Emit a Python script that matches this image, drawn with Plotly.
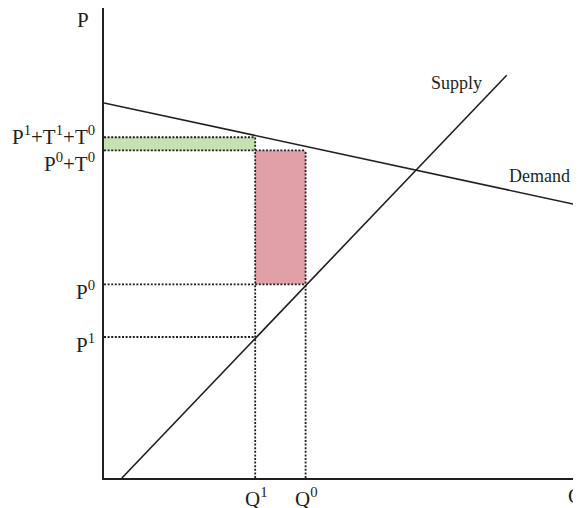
import plotly.graph_objects as go

# ---- data (abstract diagram units) ----
supply_q = [0.38, 8.55]
supply_p = [0.0, 8.57]
demand_q = [0.0, 9.96]
demand_p = [7.98, 5.83]

Q1 = 3.21
Q0 = 4.28
P1 = 3.0
P0 = 4.12
P_mid = 6.97    # P0 + T0
P_high = 7.25   # P1 + T1 + T0

y_tick_vals = [P_high, P_mid, P0, P1]
y_tick_text = ["P<sup>1</sup>+T<sup>1</sup>+T<sup>0</sup>", "P<sup>0</sup>+T<sup>0</sup>",
               "P<sup>0</sup>", "P<sup>1</sup>"]
y_tick_shift = [2, -12, -6, -6]
x_tick_vals = [Q1, Q0]
x_tick_text = ["Q<sup>1</sup>", "Q<sup>0</sup>"]

INK = "#231f20"
FONT = "Liberation Serif"
GREEN = "rgb(196,226,178)"
PINK = "rgb(225,160,167)"
DOT = "2px,1.6px"

fig = go.Figure()

# green band (0..Q1, P_mid..P_high)
fig.add_trace(go.Scatter(x=[0, Q1, Q1, 0, 0], y=[P_mid, P_mid, P_high, P_high, P_mid],
                         fill="toself", fillcolor=GREEN, mode="none", hoverinfo="skip"))
# pink rectangle (Q1..Q0, P0..P_mid)
fig.add_trace(go.Scatter(x=[Q1, Q0, Q0, Q1, Q1], y=[P0, P0, P_mid, P_mid, P0],
                         fill="toself", fillcolor=PINK, mode="none", hoverinfo="skip"))

dotted = dict(color=INK, width=1.8, dash=DOT)
# horizontal dotted guides
for (xe, yv) in [(Q1, P_high), (Q0, P_mid), (Q0, P0), (Q1, P1)]:
    fig.add_trace(go.Scatter(x=[0, xe], y=[yv, yv], mode="lines", line=dotted, hoverinfo="skip"))
# vertical dotted guides
for (xv, ye) in [(Q1, P_high), (Q0, P_mid)]:
    fig.add_trace(go.Scatter(x=[xv, xv], y=[0, ye], mode="lines", line=dotted, hoverinfo="skip"))

# supply and demand
fig.add_trace(go.Scatter(x=supply_q, y=supply_p, mode="lines", line=dict(color=INK, width=1.6)))
fig.add_trace(go.Scatter(x=demand_q, y=demand_p, mode="lines", line=dict(color=INK, width=1.6)))

ann = []
for v, t, s in zip(y_tick_vals, y_tick_text, y_tick_shift):
    ann.append(dict(x=0, y=v, xref="x", yref="y", text=t, showarrow=False,
                    xanchor="right", yanchor="middle", xshift=-7, yshift=s,
                    font=dict(family=FONT, size=21, color=INK)))
for v, t in zip(x_tick_vals, x_tick_text):
    ann.append(dict(x=v, y=0, xref="x", yref="y", text=t, showarrow=False,
                    xanchor="center", yanchor="top", yshift=-4, xshift=1,
                    font=dict(family=FONT, size=21, color=INK)))
# axis titles
ann.append(dict(x=0, y=10, xref="x", yref="y", text="P", showarrow=False,
                xanchor="right", yanchor="top", xshift=-13, yshift=2,
                font=dict(family=FONT, size=21, color=INK)))
ann.append(dict(x=10, y=0, xref="x", yref="y", text="Q", showarrow=False,
                xanchor="left", yanchor="top", xshift=-9, yshift=-4,
                font=dict(family=FONT, size=21, color=INK)))
# curve labels
ann.append(dict(x=supply_q[1], y=supply_p[1], xref="x", yref="y", text="Supply", showarrow=False,
                xanchor="right", yanchor="middle", xshift=-23, yshift=-8,
                font=dict(family=FONT, size=18, color=INK)))
ann.append(dict(x=demand_q[1], y=demand_p[1], xref="x", yref="y", text="Demand", showarrow=False,
                xanchor="right", yanchor="middle", xshift=-1, yshift=28,
                font=dict(family=FONT, size=18, color=INK)))

# the page body has an 8px default margin, so the figure is sized to fit the window
fig.update_layout(
    width=573, height=500,
    margin=dict(l=96, r=6, t=0, b=30),
    paper_bgcolor="white", plot_bgcolor="white",
    showlegend=False,
    annotations=ann,
    xaxis=dict(range=[0, 10], showgrid=False, zeroline=False, showticklabels=False,
               ticks="", showline=True, linecolor=INK, linewidth=2),
    yaxis=dict(range=[0, 10], showgrid=False, zeroline=False, showticklabels=False,
               ticks="", showline=True, linecolor=INK, linewidth=2),
)

fig.write_html("out.html")
